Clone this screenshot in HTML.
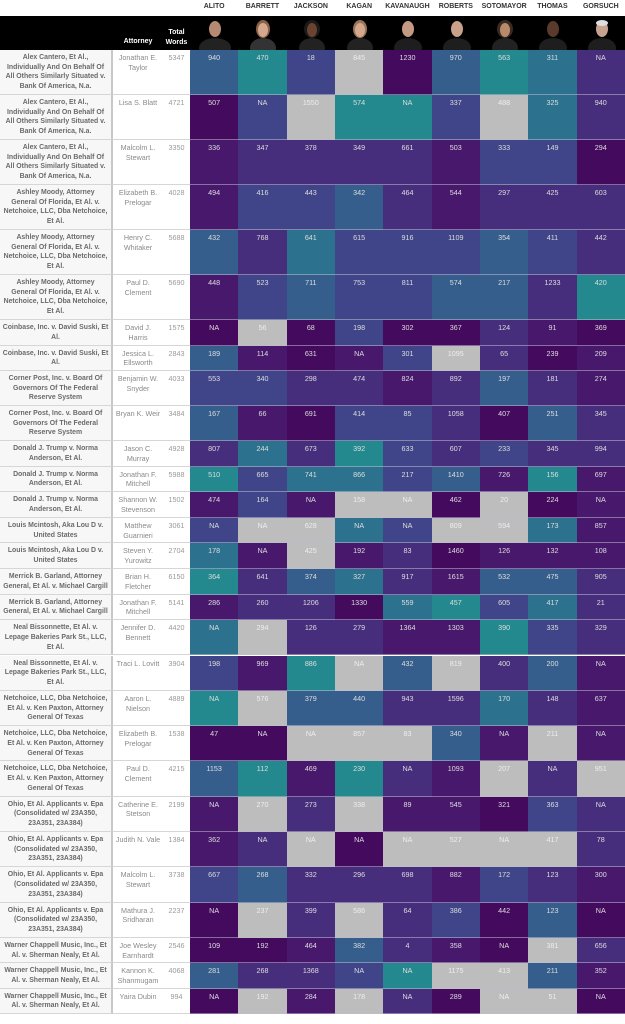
<!DOCTYPE html>
<html><head><meta charset="utf-8"><style>
*{margin:0;padding:0;box-sizing:border-box}
body{width:625px;height:1024px;background:#fff;font-family:"Liberation Sans",sans-serif;overflow:hidden;position:relative}
.top{position:absolute;left:0;top:0;width:625px;height:16px;background:#fff}
.top span{position:absolute;top:3px;width:48.33px;text-align:center;font-size:7px;font-weight:bold;color:#333}
.band{position:absolute;left:0;top:16px;width:625px;height:34px;background:#000}
.band .t{position:absolute;color:#fff;font-weight:bold;font-size:7px;text-align:center;line-height:9.5px}
.band svg{position:absolute;top:2px}
.r{position:absolute;left:0;width:625px;display:grid;grid-template-columns:113px 50px 27px repeat(9,48.33px)}
.r>div{border-bottom:1px solid #d6d6d6;overflow:hidden}
.c{background:#f7f7f7;border-right:2px solid #c8c8c8;font-size:6.9px;font-weight:bold;color:#6a6a6a;text-align:center;line-height:9.7px;padding-top:3px;white-space:nowrap}
.a{font-size:7.2px;color:#8a8a8a;text-align:center;line-height:9.7px;padding-top:3px;white-space:nowrap}
.w{font-size:7.2px;color:#999;text-align:center;padding-top:3px;line-height:9.7px}
.v{font-size:7.2px;color:#ddd;text-align:center;padding-top:3px;line-height:9.7px;border-bottom:1px solid rgba(190,190,210,.55)!important}
.D{background:#440a5e}.M{background:#47186c}.P{background:#462e7c}.V{background:#3f4588}.B{background:#355e8d}.C{background:#2c728e}.G{background:#23898e}.X{background:#bdbdbd;color:#eee}
</style></head><body>
<div class="top">
<span style="left:190px">ALITO</span><span style="left:238.3px">BARRETT</span><span style="left:286.7px">JACKSON</span><span style="left:335px">KAGAN</span><span style="left:383.3px">KAVANAUGH</span><span style="left:431.7px">ROBERTS</span><span style="left:480px">SOTOMAYOR</span><span style="left:528.3px">THOMAS</span><span style="left:576.7px">GORSUCH</span>
</div>
<div class="band">
<div class="t" style="left:113px;width:50px;top:21px">Attorney</div>
<div class="t" style="left:163px;width:27px;top:12px">Total<br>Words</div>
<svg style="left:198px" width="34" height="32"><ellipse cx="17" cy="30" rx="16" ry="10" fill="#222"/><ellipse cx="17" cy="11" rx="6" ry="8" fill="#b68a72"/></svg>
<svg style="left:246px" width="34" height="32"><ellipse cx="17" cy="30" rx="13" ry="10" fill="#333"/><ellipse cx="17" cy="11" rx="7" ry="9" fill="#8a6248"/><ellipse cx="17" cy="12" rx="5" ry="7" fill="#d6a890"/></svg>
<svg style="left:295px" width="34" height="32"><ellipse cx="17" cy="30" rx="13" ry="10" fill="#222"/><ellipse cx="17" cy="11" rx="8" ry="9" fill="#1a1a1a"/><ellipse cx="17" cy="12" rx="5" ry="7" fill="#6b4330"/></svg>
<svg style="left:343px" width="34" height="32"><ellipse cx="17" cy="30" rx="13" ry="10" fill="#222"/><ellipse cx="17" cy="11" rx="7" ry="9" fill="#9a7458"/><ellipse cx="17" cy="12" rx="5" ry="7" fill="#d4a68c"/></svg>
<svg style="left:391px" width="34" height="32"><ellipse cx="17" cy="30" rx="14" ry="10" fill="#1e1e1e"/><ellipse cx="17" cy="11" rx="6" ry="8" fill="#c49a84"/></svg>
<svg style="left:440px" width="34" height="32"><ellipse cx="17" cy="30" rx="14" ry="10" fill="#1e1e1e"/><ellipse cx="17" cy="11" rx="6" ry="8" fill="#c9a08a"/></svg>
<svg style="left:488px" width="34" height="32"><ellipse cx="17" cy="30" rx="13" ry="10" fill="#222"/><ellipse cx="17" cy="11" rx="8" ry="9" fill="#3a2a22"/><ellipse cx="17" cy="12" rx="5" ry="7" fill="#b88a6c"/></svg>
<svg style="left:536px" width="34" height="32"><ellipse cx="17" cy="30" rx="14" ry="10" fill="#1e1e1e"/><ellipse cx="17" cy="11" rx="6" ry="8" fill="#5a3a2a"/></svg>
<svg style="left:585px" width="34" height="32"><ellipse cx="17" cy="30" rx="14" ry="10" fill="#1e1e1e"/><ellipse cx="17" cy="11" rx="6" ry="8" fill="#c8a290"/><ellipse cx="17" cy="5" rx="6" ry="3" fill="#ddd"/></svg>
</div>

<div class="r" style="top:50px;height:45px"><div class="c">Alex Cantero, Et Al.,<br>Individually And On Behalf Of<br>All Others Similarly Situated v.<br>Bank Of America, N.a.</div><div class="a">Jonathan E.<br>Taylor</div><div class="w">5347</div><div class="v B">940</div><div class="v G">470</div><div class="v V">18</div><div class="v X">845</div><div class="v D">1230</div><div class="v B">970</div><div class="v G">563</div><div class="v C">311</div><div class="v P">NA</div></div>
<div class="r" style="top:95px;height:45px"><div class="c">Alex Cantero, Et Al.,<br>Individually And On Behalf Of<br>All Others Similarly Situated v.<br>Bank Of America, N.a.</div><div class="a">Lisa S. Blatt</div><div class="w">4721</div><div class="v D">507</div><div class="v V">NA</div><div class="v X">1550</div><div class="v G">574</div><div class="v G">NA</div><div class="v V">337</div><div class="v X">488</div><div class="v C">325</div><div class="v P">940</div></div>
<div class="r" style="top:140px;height:45px"><div class="c">Alex Cantero, Et Al.,<br>Individually And On Behalf Of<br>All Others Similarly Situated v.<br>Bank Of America, N.a.</div><div class="a">Malcolm L.<br>Stewart</div><div class="w">3350</div><div class="v M">336</div><div class="v P">347</div><div class="v P">378</div><div class="v P">349</div><div class="v P">661</div><div class="v M">503</div><div class="v V">333</div><div class="v V">149</div><div class="v D">294</div></div>
<div class="r" style="top:185px;height:45px"><div class="c">Ashley Moody, Attorney<br>General Of Florida, Et Al. v.<br>Netchoice, LLC, Dba Netchoice,<br>Et Al.</div><div class="a">Elizabeth B.<br>Prelogar</div><div class="w">4028</div><div class="v M">494</div><div class="v V">416</div><div class="v V">443</div><div class="v B">342</div><div class="v P">464</div><div class="v M">544</div><div class="v P">297</div><div class="v P">425</div><div class="v P">603</div></div>
<div class="r" style="top:230px;height:45px"><div class="c">Ashley Moody, Attorney<br>General Of Florida, Et Al. v.<br>Netchoice, LLC, Dba Netchoice,<br>Et Al.</div><div class="a">Henry C.<br>Whitaker</div><div class="w">5688</div><div class="v B">432</div><div class="v P">768</div><div class="v C">641</div><div class="v V">615</div><div class="v V">916</div><div class="v V">1109</div><div class="v B">354</div><div class="v V">411</div><div class="v P">442</div></div>
<div class="r" style="top:275px;height:45px"><div class="c">Ashley Moody, Attorney<br>General Of Florida, Et Al. v.<br>Netchoice, LLC, Dba Netchoice,<br>Et Al.</div><div class="a">Paul D.<br>Clement</div><div class="w">5690</div><div class="v M">448</div><div class="v V">523</div><div class="v B">711</div><div class="v V">753</div><div class="v V">811</div><div class="v B">574</div><div class="v B">217</div><div class="v P">1233</div><div class="v G">420</div></div>
<div class="r" style="top:320px;height:25.5px"><div class="c">Coinbase, Inc. v. David Suski, Et<br>Al.</div><div class="a">David J.<br>Harris</div><div class="w">1575</div><div class="v D">NA</div><div class="v X">56</div><div class="v D">68</div><div class="v V">198</div><div class="v D">302</div><div class="v D">367</div><div class="v P">124</div><div class="v M">91</div><div class="v D">369</div></div>
<div class="r" style="top:345.5px;height:25.5px"><div class="c">Coinbase, Inc. v. David Suski, Et<br>Al.</div><div class="a">Jessica L.<br>Ellsworth</div><div class="w">2843</div><div class="v B">189</div><div class="v M">114</div><div class="v D">631</div><div class="v M">NA</div><div class="v V">301</div><div class="v X">1095</div><div class="v P">65</div><div class="v D">239</div><div class="v M">209</div></div>
<div class="r" style="top:371px;height:35px"><div class="c">Corner Post, Inc. v. Board Of<br>Governors Of The Federal<br>Reserve System</div><div class="a">Benjamin W.<br>Snyder</div><div class="w">4033</div><div class="v V">553</div><div class="v V">340</div><div class="v P">298</div><div class="v P">474</div><div class="v M">824</div><div class="v P">892</div><div class="v B">197</div><div class="v P">181</div><div class="v M">274</div></div>
<div class="r" style="top:406px;height:35px"><div class="c">Corner Post, Inc. v. Board Of<br>Governors Of The Federal<br>Reserve System</div><div class="a">Bryan K. Weir</div><div class="w">3484</div><div class="v B">167</div><div class="v M">66</div><div class="v D">691</div><div class="v V">414</div><div class="v V">85</div><div class="v P">1058</div><div class="v D">407</div><div class="v B">251</div><div class="v P">345</div></div>
<div class="r" style="top:441px;height:25.6px"><div class="c">Donald J. Trump v. Norma<br>Anderson, Et Al.</div><div class="a">Jason C.<br>Murray</div><div class="w">4928</div><div class="v P">807</div><div class="v C">244</div><div class="v P">673</div><div class="v G">392</div><div class="v V">633</div><div class="v P">607</div><div class="v V">233</div><div class="v P">345</div><div class="v P">994</div></div>
<div class="r" style="top:466.6px;height:25.6px"><div class="c">Donald J. Trump v. Norma<br>Anderson, Et Al.</div><div class="a">Jonathan F.<br>Mitchell</div><div class="w">5988</div><div class="v G">510</div><div class="v V">665</div><div class="v C">741</div><div class="v C">866</div><div class="v V">217</div><div class="v B">1410</div><div class="v M">726</div><div class="v G">156</div><div class="v M">697</div></div>
<div class="r" style="top:492.2px;height:25.6px"><div class="c">Donald J. Trump v. Norma<br>Anderson, Et Al.</div><div class="a">Shannon W.<br>Stevenson</div><div class="w">1502</div><div class="v M">474</div><div class="v V">164</div><div class="v M">NA</div><div class="v X">158</div><div class="v X">NA</div><div class="v D">462</div><div class="v X">20</div><div class="v D">224</div><div class="v M">NA</div></div>
<div class="r" style="top:517.8px;height:25.6px"><div class="c">Louis Mcintosh, Aka Lou D v.<br>United States</div><div class="a">Matthew<br>Guarnieri</div><div class="w">3061</div><div class="v V">NA</div><div class="v X">NA</div><div class="v X">628</div><div class="v C">NA</div><div class="v V">NA</div><div class="v X">809</div><div class="v X">594</div><div class="v C">173</div><div class="v M">857</div></div>
<div class="r" style="top:543.4px;height:25.6px"><div class="c">Louis Mcintosh, Aka Lou D v.<br>United States</div><div class="a">Steven Y.<br>Yurowitz</div><div class="w">2704</div><div class="v C">178</div><div class="v M">NA</div><div class="v X">425</div><div class="v M">192</div><div class="v P">83</div><div class="v D">1460</div><div class="v M">126</div><div class="v M">132</div><div class="v M">108</div></div>
<div class="r" style="top:569px;height:25.6px"><div class="c">Merrick B. Garland, Attorney<br>General, Et Al. v. Michael Cargill</div><div class="a">Brian H.<br>Fletcher</div><div class="w">6150</div><div class="v G">364</div><div class="v P">641</div><div class="v B">374</div><div class="v C">327</div><div class="v P">917</div><div class="v M">1615</div><div class="v B">532</div><div class="v B">475</div><div class="v P">905</div></div>
<div class="r" style="top:594.6px;height:25.6px"><div class="c">Merrick B. Garland, Attorney<br>General, Et Al. v. Michael Cargill</div><div class="a">Jonathan F.<br>Mitchell</div><div class="w">5141</div><div class="v M">286</div><div class="v P">260</div><div class="v P">1206</div><div class="v D">1330</div><div class="v C">559</div><div class="v G">457</div><div class="v V">605</div><div class="v C">417</div><div class="v P">21</div></div>
<div class="r" style="top:620.2px;height:35.3px"><div class="c">Neal Bissonnette, Et Al. v.<br>Lepage Bakeries Park St., LLC,<br>Et Al.</div><div class="a">Jennifer D.<br>Bennett</div><div class="w">4420</div><div class="v C">NA</div><div class="v X">294</div><div class="v P">126</div><div class="v P">279</div><div class="v M">1364</div><div class="v M">1303</div><div class="v G">390</div><div class="v V">335</div><div class="v P">329</div></div>
<div class="r" style="top:655.5px;height:35.3px"><div class="c">Neal Bissonnette, Et Al. v.<br>Lepage Bakeries Park St., LLC,<br>Et Al.</div><div class="a">Traci L. Lovitt</div><div class="w">3904</div><div class="v V">198</div><div class="v M">969</div><div class="v G">886</div><div class="v X">NA</div><div class="v B">432</div><div class="v X">819</div><div class="v P">400</div><div class="v B">200</div><div class="v M">NA</div></div>
<div class="r" style="top:690.8px;height:35.3px"><div class="c">Netchoice, LLC, Dba Netchoice,<br>Et Al. v. Ken Paxton, Attorney<br>General Of Texas</div><div class="a">Aaron L.<br>Nielson</div><div class="w">4889</div><div class="v G">NA</div><div class="v X">576</div><div class="v B">379</div><div class="v B">440</div><div class="v P">943</div><div class="v P">1596</div><div class="v C">170</div><div class="v P">148</div><div class="v M">637</div></div>
<div class="r" style="top:726.1px;height:35.3px"><div class="c">Netchoice, LLC, Dba Netchoice,<br>Et Al. v. Ken Paxton, Attorney<br>General Of Texas</div><div class="a">Elizabeth B.<br>Prelogar</div><div class="w">1538</div><div class="v D">47</div><div class="v D">NA</div><div class="v X">NA</div><div class="v X">857</div><div class="v X">83</div><div class="v B">340</div><div class="v M">NA</div><div class="v X">211</div><div class="v M">NA</div></div>
<div class="r" style="top:761.4px;height:35.3px"><div class="c">Netchoice, LLC, Dba Netchoice,<br>Et Al. v. Ken Paxton, Attorney<br>General Of Texas</div><div class="a">Paul D.<br>Clement</div><div class="w">4215</div><div class="v B">1153</div><div class="v G">112</div><div class="v M">469</div><div class="v G">230</div><div class="v P">NA</div><div class="v M">1093</div><div class="v X">207</div><div class="v P">NA</div><div class="v X">951</div></div>
<div class="r" style="top:796.7px;height:35.3px"><div class="c">Ohio, Et Al. Applicants v. Epa<br>(Consolidated w/ 23A350,<br>23A351, 23A384)</div><div class="a">Catherine E.<br>Stetson</div><div class="w">2199</div><div class="v M">NA</div><div class="v X">270</div><div class="v P">273</div><div class="v X">338</div><div class="v M">89</div><div class="v M">545</div><div class="v D">321</div><div class="v V">363</div><div class="v P">NA</div></div>
<div class="r" style="top:832px;height:35.3px"><div class="c">Ohio, Et Al. Applicants v. Epa<br>(Consolidated w/ 23A350,<br>23A351, 23A384)</div><div class="a">Judith N. Vale</div><div class="w">1384</div><div class="v M">362</div><div class="v P">NA</div><div class="v X">NA</div><div class="v D">NA</div><div class="v X">NA</div><div class="v X">527</div><div class="v X">NA</div><div class="v X">417</div><div class="v P">78</div></div>
<div class="r" style="top:867.3px;height:35.3px"><div class="c">Ohio, Et Al. Applicants v. Epa<br>(Consolidated w/ 23A350,<br>23A351, 23A384)</div><div class="a">Malcolm L.<br>Stewart</div><div class="w">3738</div><div class="v V">667</div><div class="v B">268</div><div class="v P">332</div><div class="v P">296</div><div class="v P">698</div><div class="v M">882</div><div class="v V">172</div><div class="v P">123</div><div class="v M">300</div></div>
<div class="r" style="top:902.6px;height:35.3px"><div class="c">Ohio, Et Al. Applicants v. Epa<br>(Consolidated w/ 23A350,<br>23A351, 23A384)</div><div class="a">Mathura J.<br>Sridharan</div><div class="w">2237</div><div class="v D">NA</div><div class="v X">237</div><div class="v P">399</div><div class="v X">586</div><div class="v P">64</div><div class="v V">386</div><div class="v D">442</div><div class="v B">123</div><div class="v D">NA</div></div>
<div class="r" style="top:937.9px;height:25.4px"><div class="c">Warner Chappell Music, Inc., Et<br>Al. v. Sherman Nealy, Et Al.</div><div class="a">Joe Wesley<br>Earnhardt</div><div class="w">2546</div><div class="v D">109</div><div class="v D">192</div><div class="v M">464</div><div class="v B">382</div><div class="v P">4</div><div class="v M">358</div><div class="v D">NA</div><div class="v X">381</div><div class="v P">656</div></div>
<div class="r" style="top:963.3px;height:25.4px"><div class="c">Warner Chappell Music, Inc., Et<br>Al. v. Sherman Nealy, Et Al.</div><div class="a">Kannon K.<br>Shanmugam</div><div class="w">4068</div><div class="v B">281</div><div class="v P">268</div><div class="v P">1368</div><div class="v V">NA</div><div class="v G">NA</div><div class="v X">1175</div><div class="v X">413</div><div class="v B">211</div><div class="v M">352</div></div>
<div class="r" style="top:988.7px;height:25.4px"><div class="c">Warner Chappell Music, Inc., Et<br>Al. v. Sherman Nealy, Et Al.</div><div class="a">Yaira Dubin</div><div class="w">994</div><div class="v D">NA</div><div class="v X">192</div><div class="v M">284</div><div class="v X">178</div><div class="v P">NA</div><div class="v D">289</div><div class="v X">NA</div><div class="v X">51</div><div class="v D">NA</div></div>
</body></html>
